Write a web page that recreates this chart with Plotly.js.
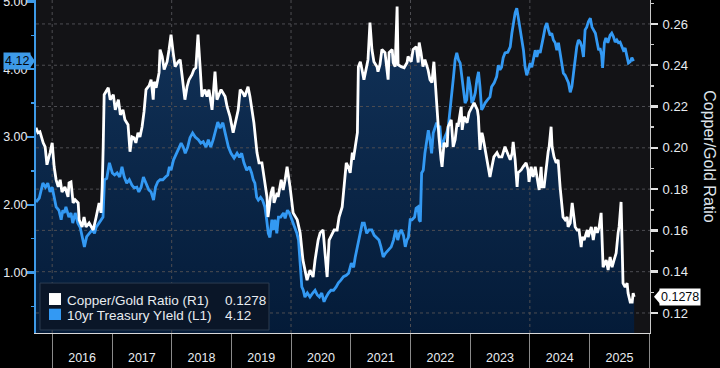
<!DOCTYPE html>
<html>
<head>
<meta charset="utf-8">
<script src="https://cdn.plot.ly/plotly-3.0.1.min.js"></script>
<style>
  html, body { margin: 0; padding: 0; background: #000; }
  #chart { width: 720px; height: 368px; }
</style>
</head>
<body>
<div id="chart"></div>
<script>
// ---------- data ----------
const copperDates = [
'2015-09-24','2015-10-06','2015-10-18','2015-11-07','2015-11-19','2015-11-30','2015-12-19',
'2016-01-01','2016-01-13','2016-01-25','2016-02-07','2016-02-19','2016-03-01','2016-03-19','2016-04-07','2016-04-13','2016-04-25',
'2016-05-08','2016-05-20','2016-06-08','2016-06-14','2016-07-02','2016-07-14','2016-07-26','2016-08-14','2016-09-08','2016-09-26',
'2016-10-14','2016-10-26','2016-11-02','2016-11-08','2016-11-14','2016-12-09','2016-12-21',
'2017-01-09','2017-01-21','2017-02-09','2017-02-21','2017-03-09','2017-03-21','2017-04-09','2017-04-21','2017-05-03','2017-05-15',
'2017-05-27','2017-06-09','2017-06-21','2017-07-04','2017-07-16','2017-07-28','2017-08-16','2017-08-28','2017-09-10','2017-09-16',
'2017-09-28','2017-10-16','2017-10-22','2017-11-04','2017-11-16','2017-12-04','2017-12-16','2017-12-28',
'2018-01-10','2018-01-22','2018-02-10','2018-02-22','2018-03-05','2018-03-23','2018-04-05','2018-04-17','2018-05-05','2018-05-17',
'2018-05-29','2018-06-11','2018-06-23','2018-07-05','2018-07-23','2018-08-05','2018-08-17','2018-09-05','2018-09-23','2018-10-05',
'2018-10-30','2018-11-24','2018-12-06','2018-12-24',
'2019-01-12','2019-01-24','2019-02-12','2019-02-24','2019-03-12','2019-03-24','2019-04-13','2019-04-25','2019-05-07','2019-05-19',
'2019-06-07','2019-06-19','2019-07-07','2019-07-13','2019-07-25','2019-08-07','2019-08-13','2019-09-01','2019-09-13','2019-09-19',
'2019-10-08','2019-10-14','2019-11-02','2019-11-14','2019-11-26','2019-12-08','2019-12-26',
'2020-01-14','2020-02-08','2020-02-26','2020-03-14','2020-03-26','2020-04-08','2020-04-26','2020-05-15','2020-05-27','2020-06-09',
'2020-06-15','2020-06-27','2020-07-15','2020-07-27','2020-08-09','2020-08-21','2020-09-09','2020-09-21','2020-10-09','2020-10-21',
'2020-11-09','2020-11-21','2020-12-04','2020-12-16','2020-12-28',
'2021-01-10','2021-01-16','2021-01-28','2021-02-10','2021-02-16','2021-02-28','2021-03-10','2021-03-22','2021-04-10','2021-04-16',
'2021-04-28','2021-05-10','2021-05-22','2021-06-10','2021-06-16','2021-06-28','2021-07-10','2021-07-29','2021-08-17','2021-08-23',
'2021-09-11','2021-09-17','2021-09-29','2021-10-11','2021-10-17','2021-11-05','2021-11-23','2021-12-11','2021-12-17',
'2022-01-05','2022-01-17','2022-02-05','2022-02-17','2022-02-23','2022-03-06','2022-03-18','2022-03-30','2022-04-18','2022-04-30',
'2022-05-12','2022-05-24','2022-06-06','2022-06-18','2022-06-24','2022-07-07','2022-07-13','2022-07-25','2022-08-13','2022-08-19',
'2022-09-07','2022-09-19','2022-10-01','2022-10-13','2022-10-19','2022-11-07','2022-11-13','2022-11-25','2022-12-13','2022-12-25',
'2023-01-13','2023-01-25','2023-02-14','2023-02-20','2023-03-02','2023-03-14','2023-03-20','2023-04-02','2023-04-14','2023-05-02',
'2023-05-14','2023-05-26','2023-06-14','2023-06-26','2023-07-14','2023-08-02','2023-08-21','2023-09-03','2023-09-15','2023-09-21',
'2023-10-03','2023-10-15','2023-10-21','2023-11-09','2023-11-21','2023-12-09','2023-12-21','2023-12-27',
'2024-01-09','2024-01-21','2024-02-03','2024-02-15','2024-02-27','2024-03-10','2024-03-16','2024-03-28','2024-04-10','2024-04-22',
'2024-04-28','2024-05-10','2024-05-16','2024-05-28','2024-06-10','2024-06-22','2024-07-04','2024-07-16','2024-07-22','2024-08-04',
'2024-08-16','2024-08-22','2024-09-04','2024-09-16','2024-09-22','2024-10-04','2024-10-16','2024-10-28','2024-11-10','2024-11-16',
'2024-11-28','2024-12-17','2024-12-23',
'2025-01-11','2025-01-23','2025-02-05','2025-02-17','2025-02-28','2025-03-12','2025-03-18','2025-03-24','2025-04-12','2025-04-24',
'2025-05-06','2025-05-18','2025-05-30','2025-06-12','2025-06-24','2025-06-30','2025-07-12','2025-07-18','2025-07-24','2025-08-06',
'2025-08-18','2025-08-24','2025-09-06','2025-09-18','2025-09-24','2025-09-30'
];
const copperValues = [
0.2097,0.2073,0.2078,0.2024,0.2005,0.1918,0.1976,
0.2024,0.1908,0.1845,0.1811,0.1845,0.1786,0.1811,0.1762,0.1830,0.1835,
0.1733,0.1748,0.1733,0.1651,0.1617,0.1665,0.1617,0.1636,0.1602,0.1665,
0.1733,0.1685,0.1811,0.2005,0.2257,0.2291,0.2233,
0.2257,0.2184,0.2233,0.2160,0.2184,0.2136,0.2112,0.1981,0.2053,0.2049,
0.2024,0.2073,0.2053,0.2102,0.2175,0.2282,0.2301,0.2330,0.2233,0.2320,
0.2291,0.2364,0.2476,0.2442,0.2379,0.2417,0.2476,0.2548,
0.2461,0.2393,0.2417,0.2427,0.2354,0.2233,0.2296,0.2330,0.2354,0.2379,
0.2388,0.2548,0.2403,0.2248,0.2282,0.2248,0.2282,0.2184,0.2369,0.2233,
0.2282,0.2248,0.2199,0.2151,
0.2073,0.2121,0.2184,0.2282,0.2267,0.2248,0.2296,0.2248,0.2184,0.2121,
0.1976,0.1927,0.1927,0.1893,0.1811,0.1762,0.1665,0.1782,0.1811,0.1733,
0.1782,0.1762,0.1845,0.1796,0.1845,0.1908,0.1811,
0.1685,0.1651,0.1588,0.1456,0.1408,0.1359,0.1408,0.1374,0.1456,0.1519,
0.1553,0.1588,0.1602,0.1490,0.1374,0.1553,0.1588,0.1602,0.1602,0.1665,
0.1714,0.1830,0.1927,0.1908,0.1879,
0.1976,0.1942,0.2005,0.2073,0.2393,0.2417,0.2379,0.2330,0.2403,0.2427,
0.2607,0.2476,0.2417,0.2393,0.2369,0.2403,0.2476,0.2461,0.2330,0.2461,
0.2476,0.2413,0.2393,0.2684,0.2403,0.2393,0.2388,0.2413,0.2442,
0.2417,0.2476,0.2490,0.2413,0.2510,0.2461,0.2393,0.2427,0.2379,0.2330,
0.2316,0.2417,0.2248,0.2073,0.2053,0.1942,0.1908,0.2024,0.2005,0.2102,
0.2136,0.2005,0.2039,0.2121,0.2102,0.2199,0.2087,0.2151,0.2121,0.2170,
0.2199,0.2218,0.2184,0.2151,0.1990,0.2073,0.2053,0.1990,0.1942,0.1859,
0.1908,0.1956,0.1976,0.1956,0.1956,0.2005,0.1966,0.1942,0.1976,0.2029,
0.1942,0.1811,0.1879,0.1893,0.1908,0.1927,0.1893,0.1835,
0.1908,0.1859,0.1908,0.1845,0.1796,0.1908,0.1811,0.1811,0.1908,0.1981,
0.2005,0.2102,0.2005,0.1956,0.1927,0.1942,0.1811,0.1714,0.1665,0.1651,
0.1665,0.1617,0.1636,0.1733,0.1685,0.1617,0.1602,0.1602,0.1519,0.1568,
0.1553,0.1602,0.1568,
0.1617,0.1553,0.1617,0.1588,0.1617,0.1685,0.1553,0.1422,0.1456,0.1408,
0.1471,0.1422,0.1456,0.1490,0.1588,0.1617,0.1738,0.1490,0.1345,0.1325,
0.1345,0.1296,0.1253,0.1253,0.1296,0.1278
];

const yieldDates = [
'2015-09-24','2015-10-14','2015-11-05','2015-11-21','2015-12-05','2015-12-19',
'2016-01-01','2016-01-15','2016-01-25','2016-02-11','2016-02-25','2016-03-06','2016-03-15','2016-03-25','2016-04-12','2016-04-25',
'2016-05-06','2016-05-21','2016-06-06','2016-06-20','2016-07-06','2016-07-16','2016-07-30','2016-08-16','2016-09-02','2016-09-16',
'2016-09-26','2016-10-13','2016-10-26','2016-11-07','2016-11-16','2016-11-30','2016-12-16',
'2017-01-03','2017-01-17','2017-02-01','2017-02-17','2017-03-03','2017-03-17','2017-04-01','2017-04-17','2017-05-03','2017-05-17',
'2017-06-02','2017-06-14','2017-06-28','2017-07-12','2017-07-28','2017-08-14','2017-08-28','2017-09-12','2017-09-24','2017-10-08',
'2017-10-22','2017-11-08','2017-11-24','2017-12-08','2017-12-18','2017-12-28',
'2018-01-12','2018-01-29','2018-02-15','2018-02-28','2018-03-13','2018-03-25','2018-04-09','2018-04-23','2018-05-09','2018-05-25',
'2018-06-13','2018-06-28','2018-07-13','2018-07-30','2018-08-13','2018-08-28','2018-09-12','2018-09-24','2018-10-10','2018-10-24',
'2018-11-10','2018-11-24','2018-12-14','2018-12-30',
'2019-01-18','2019-02-05','2019-02-20','2019-03-05','2019-03-19','2019-04-05','2019-04-21','2019-05-05','2019-05-15','2019-05-25',
'2019-06-05','2019-06-15','2019-06-29','2019-07-11','2019-07-25','2019-08-05','2019-08-15','2019-08-25','2019-09-06','2019-09-15',
'2019-09-25','2019-10-06','2019-10-16','2019-10-30','2019-11-16','2019-11-26','2019-12-10','2019-12-22',
'2020-01-06','2020-01-20','2020-02-06','2020-02-16','2020-02-26','2020-03-07','2020-03-16','2020-03-26','2020-04-10','2020-04-26',
'2020-05-13','2020-05-27','2020-06-10','2020-06-23','2020-07-07','2020-07-21','2020-08-03','2020-08-17','2020-09-01','2020-09-17',
'2020-10-03','2020-10-17','2020-11-01','2020-11-17','2020-12-04','2020-12-18',
'2021-01-04','2021-01-18','2021-01-28','2021-02-14','2021-02-28','2021-03-12','2021-03-24','2021-04-08','2021-04-22','2021-05-09',
'2021-05-24','2021-06-08','2021-06-22','2021-07-04','2021-07-18','2021-08-02','2021-08-18','2021-09-05','2021-09-19','2021-10-03',
'2021-10-15','2021-10-25','2021-11-05','2021-11-19','2021-11-30','2021-12-10','2021-12-19','2021-12-30',
'2022-01-10','2022-01-26','2022-02-04','2022-02-16','2022-02-23','2022-03-02','2022-03-10','2022-03-20','2022-03-30','2022-04-10',
'2022-04-20','2022-04-30','2022-05-10','2022-05-20','2022-05-30','2022-06-10','2022-06-20','2022-06-30','2022-07-10','2022-07-20',
'2022-07-30','2022-08-10','2022-08-20','2022-09-01','2022-09-11','2022-09-21','2022-10-01','2022-10-11','2022-10-21','2022-11-01',
'2022-11-11','2022-11-21','2022-12-01','2022-12-11','2022-12-21',
'2023-01-01','2023-01-11','2023-01-21','2023-02-01','2023-02-11','2023-02-21','2023-03-02','2023-03-12','2023-03-22','2023-04-02',
'2023-04-18','2023-05-02','2023-05-12','2023-05-28','2023-06-12','2023-06-22','2023-07-02','2023-07-12','2023-07-22','2023-08-02',
'2023-08-19','2023-09-03','2023-09-13','2023-09-23','2023-10-03','2023-10-13','2023-10-23','2023-11-03','2023-11-13','2023-11-23',
'2023-12-03','2023-12-13','2023-12-23',
'2024-01-03','2024-01-13','2024-01-23','2024-02-03','2024-02-13','2024-02-23','2024-03-04','2024-03-14','2024-03-24','2024-04-04',
'2024-04-14','2024-04-24','2024-05-04','2024-05-14','2024-05-24','2024-06-04','2024-06-14','2024-06-24','2024-07-04','2024-07-14',
'2024-07-24','2024-08-04','2024-08-14','2024-08-24','2024-09-04','2024-09-14','2024-09-24','2024-10-04','2024-10-14','2024-10-24',
'2024-11-04','2024-11-14','2024-11-24','2024-12-04','2024-12-14','2024-12-24',
'2025-01-05','2025-01-15','2025-01-25','2025-02-05','2025-02-15','2025-02-25','2025-03-05','2025-03-15','2025-03-21','2025-04-01',
'2025-04-10','2025-04-22','2025-05-06','2025-05-16','2025-05-26','2025-06-06','2025-06-16','2025-06-26','2025-07-06','2025-07-16',
'2025-07-26','2025-08-06','2025-08-16','2025-08-26','2025-09-06','2025-09-16','2025-09-26'
];
const yieldValues = [
2.04,2.10,2.32,2.26,2.32,2.19,
2.26,2.11,1.97,1.92,1.78,1.92,1.88,1.97,1.82,1.88,
1.73,1.88,1.73,1.67,1.48,1.38,1.53,1.58,1.63,1.58,
1.67,1.73,1.78,1.82,2.37,2.39,2.62,
2.47,2.44,2.47,2.41,2.56,2.41,2.32,2.37,2.29,2.25,
2.26,2.19,2.26,2.41,2.32,2.22,2.19,2.07,2.26,2.34,
2.37,2.37,2.41,2.44,2.56,2.51,
2.66,2.76,2.85,2.91,2.85,2.76,2.85,2.99,3.06,3.00,
2.96,2.91,2.93,2.85,2.96,2.85,2.96,3.07,3.22,3.13,
3.21,3.06,2.85,2.76,
2.69,2.76,2.70,2.76,2.62,2.51,2.56,2.47,2.37,2.32,
2.11,2.07,2.11,2.07,1.97,1.78,1.58,1.52,1.78,1.63,
1.78,1.58,1.82,1.82,1.88,1.80,1.92,1.88,
1.78,1.67,1.58,1.48,1.08,0.79,0.74,0.64,0.70,0.64,
0.70,0.74,0.67,0.64,0.70,0.57,0.64,0.70,0.74,0.74,
0.79,0.85,0.89,0.94,0.96,0.99,
1.14,1.08,1.23,1.44,1.58,1.73,1.73,1.58,1.63,1.63,
1.55,1.52,1.48,1.38,1.23,1.29,1.33,1.38,1.48,1.63,
1.48,1.58,1.63,1.55,1.38,1.48,1.52,1.78,
1.78,1.82,1.95,1.97,1.78,1.75,2.47,2.51,2.76,2.91,
3.10,2.96,2.76,3.06,3.15,3.21,3.15,3.15,2.85,2.91,
3.00,3.06,3.15,3.40,3.65,3.89,4.14,4.24,4.14,4.09,
3.89,3.65,3.50,3.55,3.89,
3.74,3.50,3.55,3.65,3.84,3.96,3.74,3.40,3.44,3.50,
3.55,3.59,3.74,3.80,3.89,4.06,3.99,4.03,4.17,4.24,
4.25,4.33,4.53,4.68,4.83,4.90,4.73,4.62,4.43,4.28,
4.03,3.91,3.99,
4.09,4.03,4.14,4.28,4.18,4.28,4.24,4.39,4.48,4.62,
4.68,4.58,4.50,4.53,4.43,4.39,4.28,4.39,4.24,4.09,
3.94,3.91,3.84,3.80,3.66,3.74,3.94,4.17,4.33,4.43,
4.40,4.33,4.18,4.58,4.62,4.70,
4.75,4.62,4.58,4.53,4.40,4.28,4.31,4.21,4.02,4.39,
4.46,4.39,4.50,4.53,4.48,4.40,4.43,4.39,4.40,4.33,
4.28,4.31,4.21,4.09,4.11,4.17,4.12
];

const seriesNames = ['Copper/Gold Ratio (R1)', '10yr Treasury YIeld (L1)'];
const rightAxisTitle = 'Copper/Gold Ratio';
const copperTicks = [0.12, 0.14, 0.16, 0.18, 0.20, 0.22, 0.24, 0.26];
const gridYears = ['2016-01-01', '2018-01-01', '2020-01-01', '2022-01-01', '2024-01-01'];
const xRange = ['2015-09-24', '2026-01-05'];
const copperRange = [0.1103, 0.2716];
const yieldRange = [0.11, 5.02];

// ---------- styles ----------
const WHITE = '#ffffff';
const BLUE = '#3399f3';
const AXISBLUE = '#3d9ae8';
const TXT = '#e8ecf0';
const GRID = '#4d4d52';
const FONT = 'Liberation Sans, Arial, sans-serif';

const lastCopper = copperValues[copperValues.length - 1];
const lastYield = yieldValues[yieldValues.length - 1];

// grid lines built from the tick arrays
const hgx = [], hgy = [];
copperTicks.forEach(v => { hgx.push(xRange[0], xRange[1], null); hgy.push(v, v, null); });
const vgx = [], vgy = [];
gridYears.forEach(d => { vgx.push(d, d, null); vgy.push(copperRange[0], copperRange[1], null); });

const traces = [
  { x: copperDates, y: copperValues, yaxis: 'y', type: 'scatter', mode: 'lines',
    line: { width: 0, color: 'rgba(0,0,0,0)' }, fill: 'tozeroy',
    fillcolor: '#0b2846',
    fillgradient: { type: 'vertical', start: 0.11, stop: 0.27,
      colorscale: [[0, '#041b38'], [1, '#12335a']] },
    showlegend: false, hoverinfo: 'skip' },
  { x: hgx, y: hgy, yaxis: 'y', type: 'scatter', mode: 'lines',
    line: { width: 1, color: GRID, dash: '3px,3px' }, showlegend: false, hoverinfo: 'skip' },
  { x: vgx, y: vgy, yaxis: 'y', type: 'scatter', mode: 'lines',
    line: { width: 1, color: GRID, dash: '3px,3px' }, showlegend: false, hoverinfo: 'skip' },
  { x: yieldDates, y: yieldValues, yaxis: 'y2', type: 'scatter', mode: 'lines',
    name: seriesNames[1], line: { width: 2.8, color: BLUE }, showlegend: false },
  { x: copperDates, y: copperValues, yaxis: 'y3', type: 'scatter', mode: 'lines',
    name: seriesNames[0], line: { width: 2.8, color: WHITE }, showlegend: false }
];

const legendBox = { x0: 0.0065, x1: 0.3795, y0: 0.009, y1: 0.150 };

const layout = {
  width: 720, height: 368,
  margin: { l: 36, r: 70, t: 0, b: 35, pad: 0 },
  paper_bgcolor: '#000000',
  plot_bgcolor: '#131316',
  showlegend: false,
  hovermode: false,
  font: { family: FONT, color: TXT, size: 13 },
  xaxis: {
    type: 'date', range: xRange,
    tickmode: 'linear', tick0: '2016-01-01', dtick: 'M12', tickformat: '%Y',
    ticklabelmode: 'period',
    ticks: 'outside', ticklen: 35, tickwidth: 1, tickcolor: '#8a8a8a',
    ticklabelstandoff: -22,
    showline: true, linecolor: '#d8d8d8', linewidth: 1,
    showgrid: false, zeroline: false,
    tickfont: { family: FONT, size: 12.5, color: TXT }
  },
  yaxis: {
    side: 'right', range: copperRange,
    tickmode: 'array', tickvals: copperTicks, tickformat: '.2f',
    ticks: 'outside', ticklen: 7, tickwidth: 2.5, tickcolor: '#e0e0e0',
    minor: { dtick: 0.01, tick0: 0.11, ticks: 'outside', ticklen: 3, tickwidth: 1.5, tickcolor: '#cfcfcf', showgrid: false },
    showline: true, linecolor: '#c8c8c8', linewidth: 1,
    showgrid: false, zeroline: false,
    tickfont: { family: FONT, size: 13, color: TXT },
    ticklabelstandoff: 2
  },
  yaxis2: {
    overlaying: 'y', side: 'left', anchor: 'x', range: yieldRange,
    tickmode: 'linear', tick0: 0, dtick: 1, tickformat: '.2f',
    ticks: 'outside', ticklen: 7, tickwidth: 2.5, tickcolor: AXISBLUE,
    minor: { dtick: 0.5, tick0: 0, ticks: 'outside', ticklen: 3, tickwidth: 1.5, tickcolor: AXISBLUE, showgrid: false },
    showline: true, linecolor: AXISBLUE, linewidth: 2,
    showgrid: false, zeroline: false,
    ticklabeloverflow: 'allow',
    tickfont: { family: FONT, size: 12.5, color: TXT },
    ticklabelstandoff: -3
  },
  yaxis3: {
    overlaying: 'y', side: 'right', anchor: 'x', range: copperRange,
    visible: false, showgrid: false, zeroline: false
  },
  shapes: [
    { type: 'rect', xref: 'paper', yref: 'paper', x0: legendBox.x0, x1: legendBox.x1, y0: legendBox.y0, y1: legendBox.y1,
      fillcolor: '#0a1628', line: { color: '#2c3c50', width: 1 }, layer: 'above' },
    { type: 'rect', xref: 'paper', yref: 'paper', x0: 0.0212, x1: 0.0407, y0: 0.084, y1: 0.120,
      fillcolor: WHITE, line: { width: 0 }, layer: 'above' },
    { type: 'rect', xref: 'paper', yref: 'paper', x0: 0.0212, x1: 0.0407, y0: 0.039, y1: 0.073,
      fillcolor: BLUE, line: { width: 0 }, layer: 'above' },
    { type: 'path', xref: 'paper', yref: 'y2', xsizemode: 'pixel', ysizemode: 'pixel',
      xanchor: 0, yanchor: lastYield, path: 'M -6 -7 L -1 0 L -6 7 Z',
      fillcolor: AXISBLUE, line: { width: 0 }, layer: 'above' },
    { type: 'path', xref: 'paper', yref: 'y', xsizemode: 'pixel', ysizemode: 'pixel',
      xanchor: 1, yanchor: lastCopper, path: 'M 10 -7 L 4 0 L 10 7 Z',
      fillcolor: WHITE, line: { width: 0 }, layer: 'above' }
  ],
  annotations: [
    { xref: 'paper', yref: 'paper', x: 0.0472, y: 0.099, xanchor: 'left', yanchor: 'middle',
      text: seriesNames[0], showarrow: false, font: { family: FONT, size: 13.5, color: TXT } },
    { xref: 'paper', yref: 'paper', x: 0.0472, y: 0.054, xanchor: 'left', yanchor: 'middle',
      text: seriesNames[1], showarrow: false, font: { family: FONT, size: 13.5, color: TXT } },
    { xref: 'paper', yref: 'paper', x: 0.3046, y: 0.099, xanchor: 'left', yanchor: 'middle',
      text: lastCopper.toFixed(4), showarrow: false, font: { family: FONT, size: 13.5, color: TXT } },
    { xref: 'paper', yref: 'paper', x: 0.3046, y: 0.054, xanchor: 'left', yanchor: 'middle',
      text: lastYield.toFixed(2), showarrow: false, font: { family: FONT, size: 13.5, color: TXT } },
    { xref: 'paper', yref: 'paper', x: 1.0977, y: 0.528, xanchor: 'center', yanchor: 'middle',
      text: rightAxisTitle, textangle: 90, showarrow: false, font: { family: FONT, size: 16, color: '#dde3ea' } },
    { xref: 'paper', yref: 'y2', x: 0, y: lastYield, xanchor: 'right', yanchor: 'middle', xshift: -5,
      text: lastYield.toFixed(2), showarrow: false, bgcolor: AXISBLUE, borderpad: 1,
      font: { family: FONT, size: 12.5, color: '#05080c' } },
    { xref: 'paper', yref: 'y', x: 1, y: lastCopper, xanchor: 'left', yanchor: 'middle', xshift: 9,
      text: lastCopper.toFixed(4), showarrow: false, bgcolor: WHITE, borderpad: 1,
      font: { family: FONT, size: 12.5, color: '#05080c' } }
  ]
};

Plotly.newPlot('chart', traces, layout, { displayModeBar: false, staticPlot: true });
</script>
</body>
</html>
